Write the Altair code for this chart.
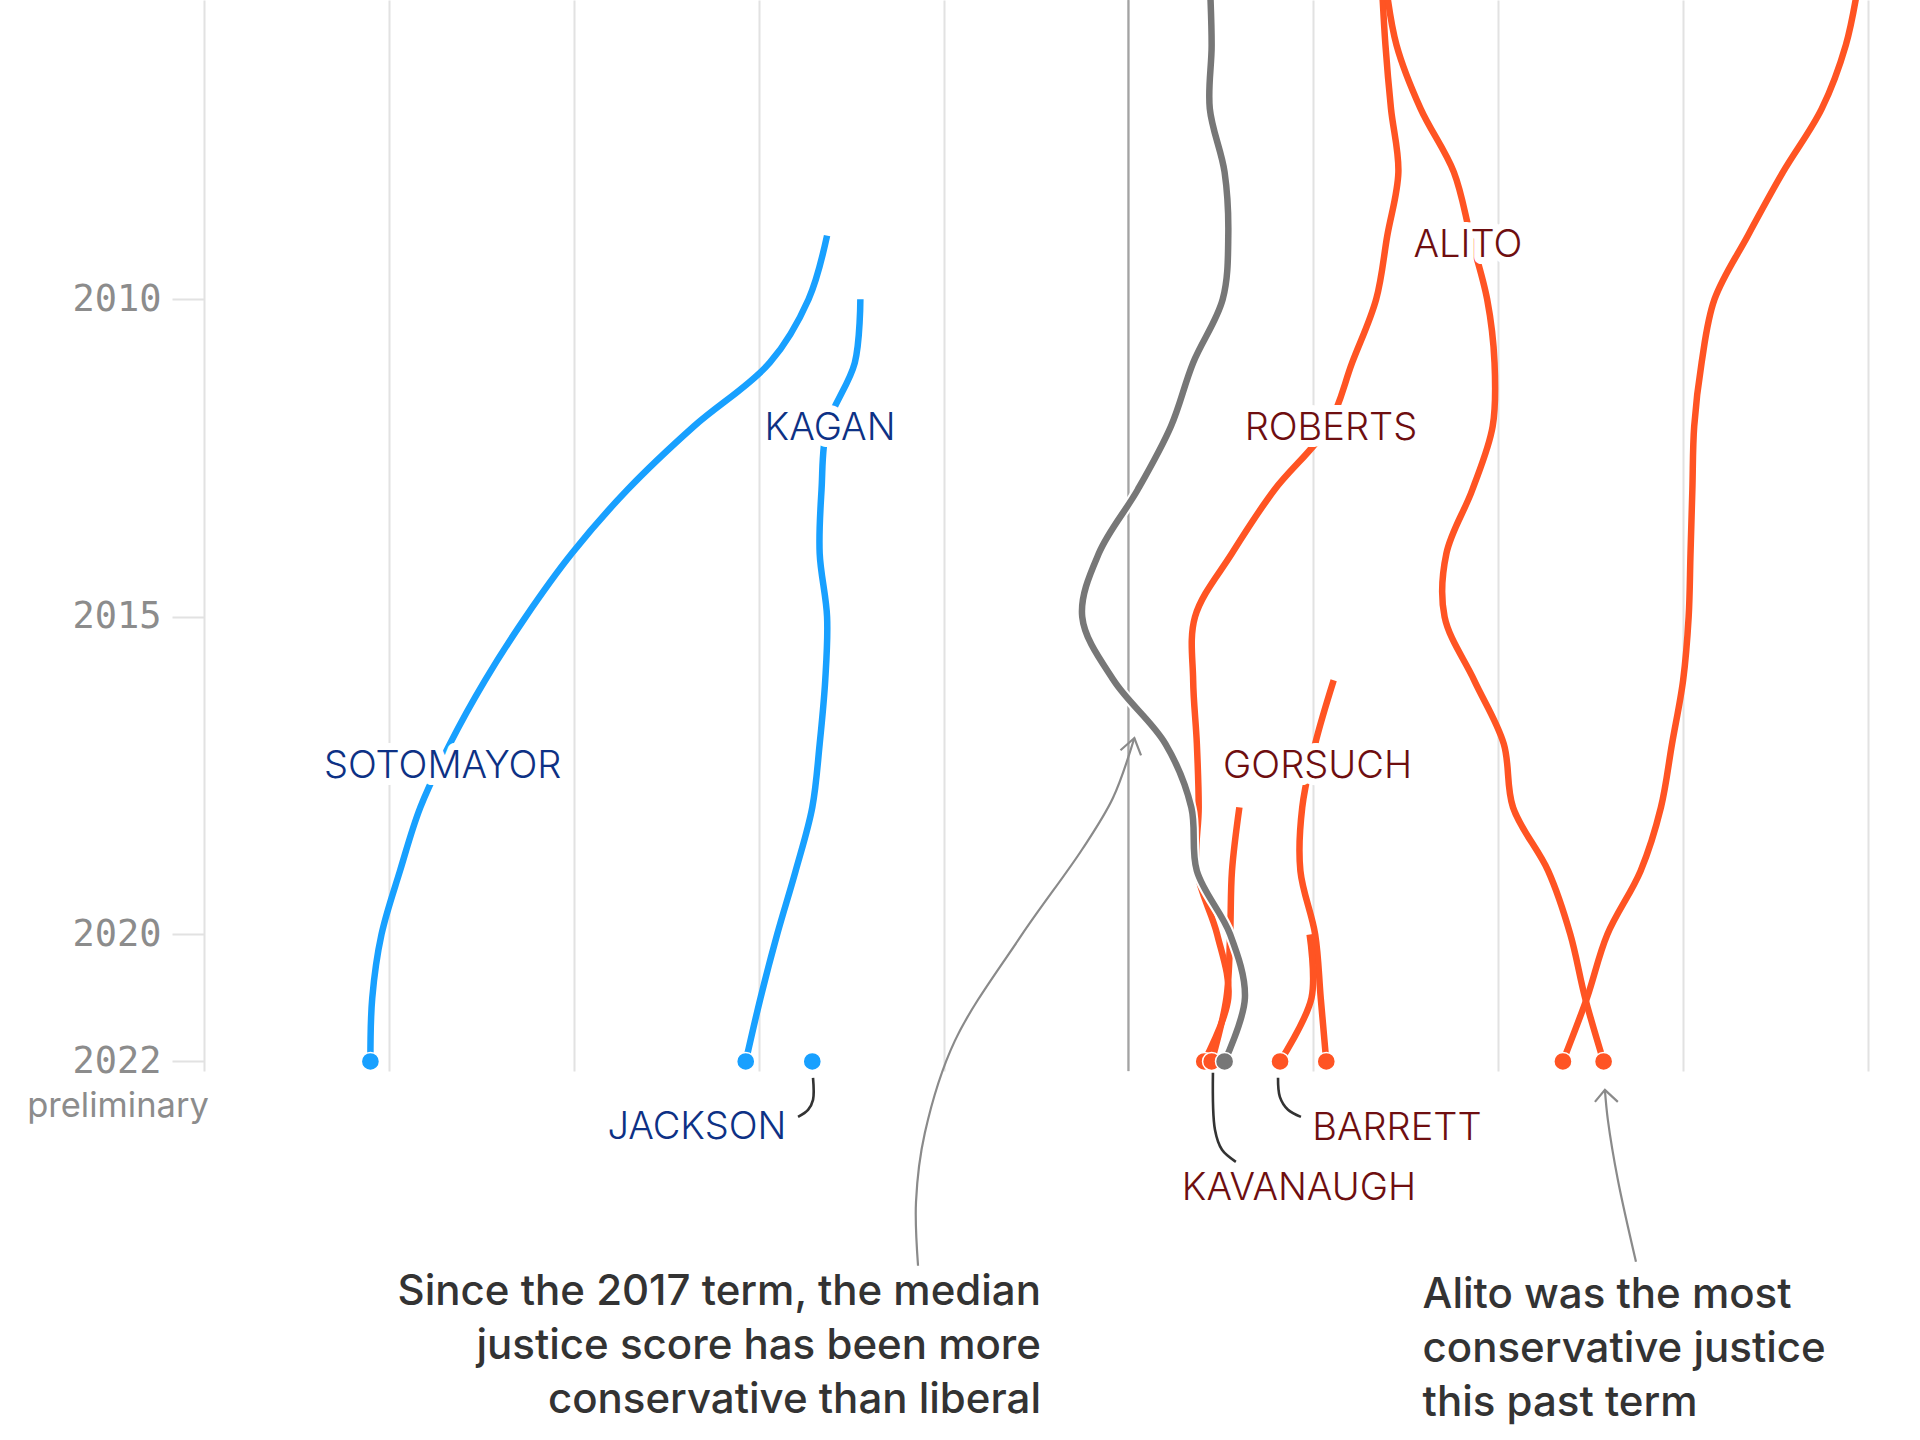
import altair as alt
import pandas as pd

# ---------------- data (Martin-Quinn style scores) -------------
years_0522 = list(range(2005, 2023))
roberts = [1.37, 1.39, 1.42, 1.46, 1.40, 1.34, 1.21, 1.08, 0.79, 0.56, 0.36, 0.35, 0.37, 0.38, 0.37, 0.48, 0.54, 0.41]
alito = [1.39, 1.45, 1.58, 1.76, 1.85, 1.94, 1.98, 1.97, 1.86, 1.72, 1.71, 1.87, 2.03, 2.08, 2.27, 2.39, 2.47, 2.57]
thomas = [3.95, 3.88, 3.75, 3.54, 3.35, 3.17, 3.10, 3.06, 3.05, 3.04, 3.03, 3.00, 2.94, 2.88, 2.77, 2.59, 2.48, 2.35]
median = [0.44, 0.45, 0.44, 0.52, 0.54, 0.51, 0.35, 0.23, 0.05, -0.16, -0.25, -0.08, 0.20, 0.34, 0.37, 0.55, 0.63, 0.52]

sotomayor_years = list(range(2009, 2023))
sotomayor = [-1.63, -1.73, -1.94, -2.35, -2.71, -3.01, -3.26, -3.48, -3.67, -3.83, -3.94, -4.04, -4.09, -4.10]
kagan_years = list(range(2010, 2023))
kagan = [-1.45, -1.48, -1.63, -1.66, -1.67, -1.63, -1.64, -1.67, -1.71, -1.80, -1.90, -1.99, -2.07]
gorsuch_years = list(range(2016, 2023))
gorsuch = [1.11, 1.01, 0.94, 0.93, 1.01, 1.04, 1.07]
kavanaugh_years = list(range(2018, 2023))
kavanaugh = [0.60, 0.56, 0.55, 0.53, 0.45]
barrett_years = [2020, 2021, 2022]
barrett = [0.98, 0.99, 0.82]
jackson_years = [2022]
jackson = [-1.71]

justices = [
    ("ROBERTS", "conservative", years_0522, roberts),
    ("ALITO", "conservative", years_0522, alito),
    ("THOMAS", "conservative", years_0522, thomas),
    ("GORSUCH", "conservative", gorsuch_years, gorsuch),
    ("KAVANAUGH", "conservative", kavanaugh_years, kavanaugh),
    ("BARRETT", "conservative", barrett_years, barrett),
    ("SOTOMAYOR", "liberal", sotomayor_years, sotomayor),
    ("KAGAN", "liberal", kagan_years, kagan),
    ("JACKSON", "liberal", jackson_years, jackson),
    ("MEDIAN", "median", years_0522, median),
]

# name labels
label_names = ["KAGAN", "SOTOMAYOR", "ROBERTS", "ALITO", "GORSUCH", "JACKSON", "BARRETT", "KAVANAUGH"]
label_party = ["liberal", "liberal", "conservative", "conservative", "conservative", "liberal", "conservative", "conservative"]
label_score = [-1.614, -3.709, 1.095, 1.836, 1.023, -2.334, 1.452, 0.922]
label_year = [2012.04, 2017.36, 2012.04, 2009.17, 2017.36, 2023.04, 2023.06, 2024.01]
label_palette = {"liberal": "#0d3185", "conservative": "#6e0e10"}

# annotation curves (score, year)
median_arrow_score = [-1.138, -1.149, -1.101, -0.939, -0.581, -0.249, -0.084, 0.032]
median_arrow_year = [2025.216, 2024.209, 2023.123, 2021.676, 2020.024, 2018.655, 2017.852, 2016.908]
median_head_score = [-0.043, 0.032, 0.068]
median_head_year = [2017.10, 2016.908, 2017.18]
alito_arrow_score = [2.745, 2.647, 2.593, 2.577]
alito_arrow_year = [2025.153, 2023.863, 2022.919, 2022.447]
alito_head_score = [2.523, 2.577, 2.647]
alito_head_year = [2022.636, 2022.447, 2022.636]

jackson_ptr_score = [-1.706, -1.706, -1.733, -1.787]
jackson_ptr_year = [2022.258, 2022.604, 2022.761, 2022.872]
kavanaugh_ptr_score = [0.457, 0.468, 0.506, 0.581]
kavanaugh_ptr_year = [2022.179, 2023.076, 2023.391, 2023.580]
barrett_ptr_score = [0.809, 0.819, 0.863, 0.933]
barrett_ptr_year = [2022.258, 2022.557, 2022.761, 2022.872]

caption_left = "Since the 2017 term, the median\njustice score has been more\nconservative than liberal"
caption_left_pos = (-0.473, 2025.83)
caption_right = "Alito was the most\nconservative justice\nthis past term"
caption_right_pos = (1.591, 2025.88)
prelim_pos = (-5.465, 2022.87)

# ---------------- build tables -------------------------------------------------------
rows = []
for name, party, yrs, vals in justices:
    for y, v in zip(yrs, vals):
        rows.append({"justice": name, "party": party, "year": y, "score": v})
df = pd.DataFrame(rows)
df_lines = df[df.party != "median"]
df_median = df[df.party == "median"]
df_end = df[df.year == 2022]

labels = pd.DataFrame({"name": label_names, "party": label_party,
                       "score": label_score, "year": label_year})
labels["tcolor"] = labels["party"].map(label_palette)


def curve(name, xs, ys):
    return pd.DataFrame({"id": name, "score": xs, "year": ys, "i": list(range(len(xs)))})


gray_curves = pd.concat([
    curve("median_arrow", median_arrow_score, median_arrow_year),
    curve("alito_arrow", alito_arrow_score, alito_arrow_year),
])
gray_heads = pd.concat([
    curve("median_head", median_head_score, median_head_year),
    curve("alito_head", alito_head_score, alito_head_year),
])
pointers = pd.concat([
    curve("jackson", jackson_ptr_score, jackson_ptr_year),
    curve("kavanaugh", kavanaugh_ptr_score, kavanaugh_ptr_year),
    curve("barrett", barrett_ptr_score, barrett_ptr_year),
])

# ---------------- scales / axes -----------------------------------------------------
X_DOMAIN = [-5, 4]
Y_DOMAIN = [2005.29, 2022.15]

x_axis = alt.Axis(values=list(range(-5, 5)), grid=True, gridColor="#e2e2e2", gridWidth=2,
                  labels=False, ticks=False, domain=False)
y_axis = alt.Axis(values=[2010, 2015, 2020, 2022], format="d", grid=False, domain=False,
                  tickColor="#e2e2e2", tickWidth=2, tickSize=32, labelPadding=11,
                  labelFont="DejaVu Sans Mono", labelFontSize=37, labelColor="#8c8c8c")


def X():
    return alt.X("score:Q", scale=alt.Scale(domain=X_DOMAIN, nice=False, zero=False),
                 axis=x_axis, title=None)


def Y():
    return alt.Y("year:Q", scale=alt.Scale(domain=Y_DOMAIN, nice=False, zero=False, reverse=True),
                 axis=y_axis, title=None)


line_color = alt.Color("party:N", legend=None,
                       scale=alt.Scale(domain=["liberal", "conservative", "median"],
                                       range=["#18a0ff", "#ff5423", "#777777"]))

# ---------------- layers ------------------------------------------------------------
zero_rule = alt.Chart(pd.DataFrame({"score": [0]})).mark_rule(
    color="#a3a3a3", strokeWidth=2.2).encode(x=X())

lines = alt.Chart(df_lines).mark_line(
    interpolate="catmull-rom", strokeWidth=6.5, clip=True).encode(
    x=X(), y=Y(), color=line_color, detail="justice:N", order="year:Q")

median_casing = alt.Chart(df_median).mark_line(
    interpolate="catmull-rom", strokeWidth=10.5, color="white", clip=True).encode(
    x=X(), y=Y(), order="year:Q")
median_line = alt.Chart(df_median).mark_line(
    interpolate="catmull-rom", strokeWidth=6.5, color="#777777", clip=True).encode(
    x=X(), y=Y(), order="year:Q")

dots = alt.Chart(df_end).mark_circle(size=330, opacity=1, stroke="white", strokeWidth=1.5).encode(
    x=X(), y=Y(), color=line_color)

label_halo = alt.Chart(labels).mark_text(
    font="Inter", fontSize=38, fontWeight=300, align="center", baseline="middle",
    stroke="white", strokeWidth=14, strokeJoin="round", fill="white").encode(
    x=X(), y=Y(), text="name:N")
label_text = alt.Chart(labels).mark_text(
    font="Inter", fontSize=38, fontWeight=300, align="center", baseline="middle").encode(
    x=X(), y=Y(), text="name:N", color=alt.Color("tcolor:N", scale=None, legend=None))

arrow_lines = alt.Chart(gray_curves).mark_line(
    interpolate="catmull-rom", strokeWidth=2.2, color="#8a8a8a").encode(
    x=X(), y=Y(), detail="id:N", order="i:Q")
arrow_heads = alt.Chart(gray_heads).mark_line(
    strokeWidth=2.2, color="#8a8a8a").encode(
    x=X(), y=Y(), detail="id:N", order="i:Q")
pointer_lines = alt.Chart(pointers).mark_line(
    interpolate="catmull-rom", strokeWidth=2.6, color="#333333").encode(
    x=X(), y=Y(), detail="id:N", order="i:Q")

cap_left = alt.Chart(pd.DataFrame({"score": [caption_left_pos[0]], "year": [caption_left_pos[1]],
                                   "t": [caption_left]})).mark_text(
    font="Inter", fontSize=42, fontWeight=500, align="right", baseline="alphabetic", lineBreak="\n",
    lineHeight=54, color="#333333").encode(x=X(), y=Y(), text="t:N")
cap_right = alt.Chart(pd.DataFrame({"score": [caption_right_pos[0]], "year": [caption_right_pos[1]],
                                    "t": [caption_right]})).mark_text(
    font="Inter", fontSize=42, fontWeight=500, align="left", baseline="alphabetic", lineBreak="\n",
    lineHeight=54, color="#333333").encode(x=X(), y=Y(), text="t:N")
prelim = alt.Chart(pd.DataFrame({"score": [prelim_pos[0]], "year": [prelim_pos[1]],
                                 "t": ["preliminary"]})).mark_text(
    font="Inter", fontSize=34.5, align="center", baseline="alphabetic", color="#8c8c8c").encode(
    x=X(), y=Y(), text="t:N")

chart = alt.layer(
    zero_rule, lines, median_casing, median_line, dots,
    label_halo, label_text, arrow_lines, arrow_heads, pointer_lines,
    cap_left, cap_right, prelim
).properties(
    width=1664, height=1071,
    autosize=alt.AutoSizeParams(type="none"),
    padding={"left": 204, "top": 0, "right": 52, "bottom": 369},
    background="white",
).configure_view(stroke=None)

chart.save("out.html", embed_options={"renderer": "svg", "actions": False})
